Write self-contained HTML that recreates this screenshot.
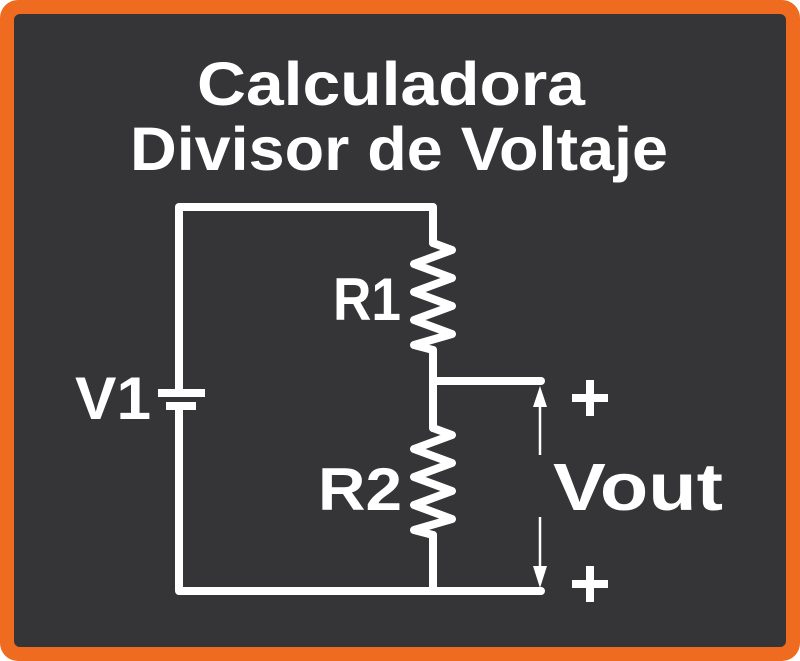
<!DOCTYPE html>
<html><head><meta charset="utf-8"><style>
html,body{margin:0;padding:0;background:#fff}
svg{display:block}
text{font-family:"Liberation Sans",sans-serif;font-weight:bold;fill:#fff}
</style></head><body>
<svg width="800" height="661" viewBox="0 0 800 661" xmlns="http://www.w3.org/2000/svg">
<rect x="0" y="0" width="800" height="661" rx="18" fill="#EE6B1F"/>
<rect x="14" y="14" width="772" height="633" rx="6" fill="#353537"/>
<text x="197" y="105" font-size="61" textLength="388" lengthAdjust="spacingAndGlyphs">Calculadora</text>
<text x="130" y="170" font-size="61" textLength="538" lengthAdjust="spacingAndGlyphs">Divisor de Voltaje</text>
<g stroke="#fff" stroke-width="8" fill="none" stroke-linejoin="round" stroke-linecap="round">
<polyline points="179,393 179,207 433,207 433,243"/>
<polyline points="433,243 452,250 414,264 452,278 414,292 452,306 414,320 452,334 414,345 433,350"/>
<polyline points="433,350 433,428"/>
<polyline points="433,381 541,381"/>
<polyline points="433,428 452,435 414,449 452,463 414,477 452,491 414,505 452,519 414,530 433,535"/>
<polyline points="433,535 433,591"/>
<polyline points="179,406 179,591 541,591"/>
</g>
<rect x="158" y="389" width="47" height="8" fill="#fff"/>
<rect x="166" y="402" width="30" height="8" fill="#fff"/>
<g stroke="#fff" stroke-width="2.5">
<line x1="540" y1="400" x2="540" y2="455"/>
<line x1="540" y1="517" x2="540" y2="574"/>
</g>
<polygon points="540,386 533,407 547,407" fill="#fff"/>
<polygon points="540,588 533,566 547,566" fill="#fff"/>
<text x="75" y="419" font-size="60" textLength="76" lengthAdjust="spacingAndGlyphs">V1</text>
<text x="333" y="320" font-size="60" textLength="68" lengthAdjust="spacingAndGlyphs">R1</text>
<text x="318" y="510" font-size="60" textLength="84" lengthAdjust="spacingAndGlyphs">R2</text>
<text x="553" y="510" font-size="67" textLength="170" lengthAdjust="spacingAndGlyphs">Vout</text>
<g fill="#fff">
<rect x="572" y="394" width="36" height="8"/><rect x="586" y="380" width="8" height="36"/>
<rect x="572" y="580" width="36" height="8"/><rect x="586" y="566" width="8" height="36"/>
</g>
</svg>
</body></html>
